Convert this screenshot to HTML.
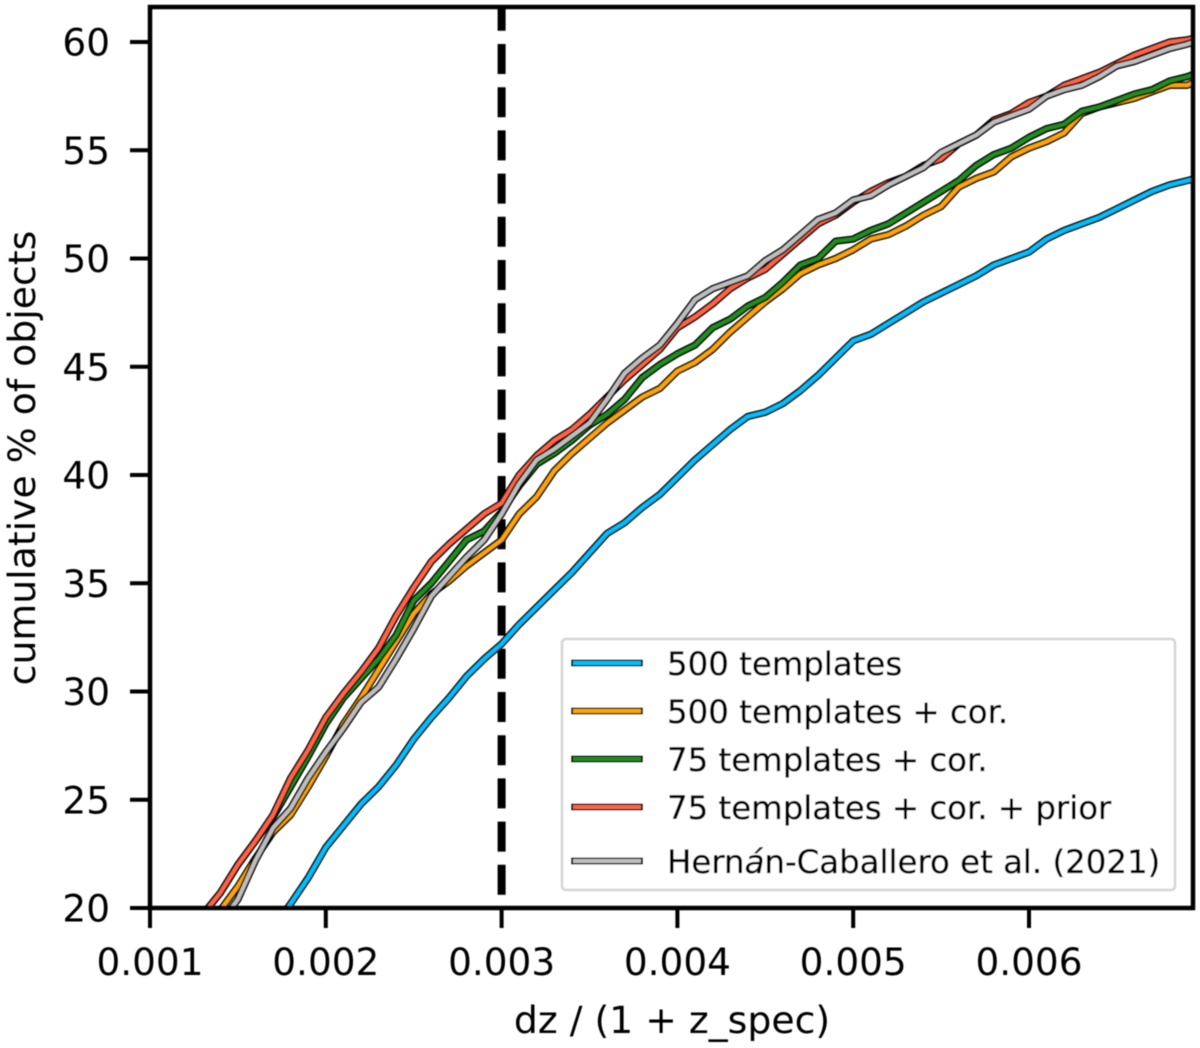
<!DOCTYPE html>
<html lang="en">
<head>
<meta charset="utf-8">
<title>Cumulative % of objects vs dz / (1 + z_spec)</title>
<style>
html,body{margin:0;padding:0;background:#fff;}
svg{display:block;}
text{font-family:"DejaVu Sans",sans-serif;fill:#000;}
</style>
</head>
<body>
<svg id="chart" xmlns="http://www.w3.org/2000/svg" width="1200" height="1048" viewBox="0 0 1200 1048">
<defs>
<clipPath id="plot-clip"><rect x="150" y="7" width="1043" height="901"></rect></clipPath>
<filter id="soft" x="0" y="0" width="100%" height="100%" filterUnits="userSpaceOnUse" primitiveUnits="userSpaceOnUse"><feGaussianBlur stdDeviation="0.4"></feGaussianBlur></filter>
</defs>
<g filter="url(#soft)">
<g id="marks" clip-path="url(#plot-clip)"></g>
<g id="axes"></g>
<g id="legend"></g>
</g>
</svg>
<script>
const dzValues = [0.0013,0.0014,0.0015,0.0016,0.0017,0.0018,0.0019,0.0020,0.0021,0.0022,0.0023,0.0024,0.0025,0.0026,0.0027,0.0028,0.0029,0.0030,0.0031,0.0032,0.0033,0.0034,0.0035,0.0036,0.0037,0.0038,0.0039,0.0040,0.0041,0.0042,0.0043,0.0044,0.0045,0.0046,0.0047,0.0048,0.0049,0.0050,0.0051,0.0052,0.0053,0.0054,0.0055,0.0056,0.0057,0.0058,0.0059,0.0060,0.0061,0.0062,0.0063,0.0064,0.0065,0.0066,0.0067,0.0068,0.0069,0.0070];
const templates500 = [15.4,16.3,17.2,18.1,19.1,20.2,21.4,22.8,23.8,24.8,25.6,26.6,27.8,28.8,29.7,30.7,31.5,32.2,33.1,33.9,34.7,35.5,36.4,37.3,37.8,38.5,39.1,39.9,40.7,41.4,42.1,42.7,42.9,43.3,43.9,44.6,45.4,46.2,46.5,47.0,47.5,48.0,48.4,48.8,49.2,49.7,50.0,50.3,50.9,51.3,51.6,51.9,52.3,52.7,53.1,53.4,53.6,53.8];
const templates500Cor = [19.0,19.9,21.0,22.3,23.5,24.3,25.6,27.0,28.5,29.7,31.0,32.3,33.6,34.5,35.1,35.8,36.4,37.0,38.2,39.0,40.2,41.0,41.7,42.4,43.0,43.6,44.0,44.8,45.2,45.8,46.6,47.3,48.0,48.6,49.3,49.7,50.0,50.4,50.9,51.1,51.5,52.0,52.4,53.3,53.7,54.0,54.7,55.1,55.4,55.8,56.7,57.0,57.2,57.4,57.7,58.0,58.0,58.4];
const templates75Cor = [19.7,20.7,22.0,23.1,24.2,25.6,27.0,28.5,29.7,30.6,31.5,32.6,34.2,35.0,36.0,37.0,37.4,38.3,39.5,40.5,41.0,41.6,42.3,42.8,43.5,44.5,45.1,45.6,46.0,46.8,47.2,47.8,48.2,48.9,49.7,50.0,50.8,50.9,51.3,51.6,52.1,52.6,53.1,53.6,54.3,54.8,55.1,55.6,56.0,56.2,56.8,57.0,57.3,57.6,57.8,58.2,58.4,58.7];
const templates75CorPrior = [19.7,20.7,22.0,23.1,24.3,26.0,27.3,28.8,29.9,30.9,32.0,33.5,34.8,36.0,36.8,37.5,38.2,38.7,40.0,40.9,41.6,42.1,42.8,43.6,44.4,45.1,45.8,46.8,47.3,47.9,48.6,49.1,49.5,50.2,50.9,51.6,52.0,52.6,53.1,53.5,53.8,54.3,54.6,55.3,55.7,56.4,56.7,57.2,57.5,58.0,58.3,58.6,59.0,59.4,59.7,60.0,60.1,60.3];
const hernanCaballero = [18.2,19.3,20.4,22.2,23.7,24.6,26.0,27.2,28.3,29.5,30.2,31.5,32.9,34.4,35.3,36.2,37.0,38.2,39.6,40.7,41.2,41.8,42.4,43.5,44.7,45.4,46.0,47.0,48.1,48.6,48.9,49.2,49.9,50.4,51.1,51.8,52.1,52.7,52.9,53.4,53.8,54.2,54.9,55.3,55.7,56.3,56.6,56.9,57.5,57.8,58.0,58.4,58.9,59.1,59.4,59.7,59.9,60.2];
const xTicks = [0.001,0.002,0.003,0.004,0.005,0.006];
const xTickLabels = ["0.001","0.002","0.003","0.004","0.005","0.006"];
const yTicks = [20,25,30,35,40,45,50,55,60];
const yTickLabels = ["20","25","30","35","40","45","50","55","60"];
const thresholdDz = [0.003];
const seriesNames = ["500 templates","500 templates + cor.","75 templates + cor.","75 templates + cor. + prior","Hernán-Caballero et al. (2021)"];
const seriesSlugs = ["500-templates","500-templates-cor","75-templates-cor","75-templates-cor-prior","hernan-caballero-2021"];
const seriesColors = ["#00bfff","#ffa500","#228b22","#ff6347","#bebebe"];
const seriesData = [templates500,templates500Cor,templates75Cor,templates75CorPrior,hernanCaballero];

const NS = "http://www.w3.org/2000/svg";
const sx = v => 150 + (v - 0.001) * 175800;
const sy = v => 908 - (v - 20) * 21.65;
const marks = document.getElementById("marks");
const axes = document.getElementById("axes");
const legend = document.getElementById("legend");
function mk(tag, parent, props) {
  const el = document.createElementNS(NS, tag);
  for (const k in props) el.setAttribute(k, props[k]);
  parent.appendChild(el);
  return el;
}

/* threshold line */
thresholdDz.forEach(v => {
  const l = mk("line", marks, {x1:sx(v), x2:sx(v), y1:908, y2:7, stroke:"#000", "stroke-width":8, "stroke-dasharray":"30 13.2", "stroke-dashoffset":30});
  
  
});

/* series */
seriesData.forEach((vals, i) => {
  const d = vals.map((v, j) => (j ? "L" : "M") + sx(dzValues[j]).toFixed(2) + " " + sy(v).toFixed(2)).join(" ");
  const g = mk("g", marks, {});
  
  
  mk("path", g, {d:d, fill:"none", stroke:"#000", "stroke-width":7.2, "stroke-linejoin":"round"});
  mk("path", g, {d:d, fill:"none", stroke:seriesColors[i], "stroke-width":4, "stroke-linejoin":"round"});
});

/* x ticks */
xTicks.forEach((v, i) => {
  const t = mk("line", axes, {x1:sx(v), x2:sx(v), y1:908, y2:928, stroke:"#000", "stroke-width":4});
  
  
  const l = mk("text", axes, {x:sx(v), y:975, "text-anchor":"middle", "font-size":37.4});
  
  
  l.textContent = xTickLabels[i];
});
/* y ticks */
yTicks.forEach((v, i) => {
  const t = mk("line", axes, {x1:130, x2:150, y1:sy(v), y2:sy(v), stroke:"#000", "stroke-width":4});
  
  
  const l = mk("text", axes, {x:110, y:sy(v) + 13.5, "text-anchor":"end", "font-size":37.4});
  
  
  l.textContent = yTickLabels[i];
});
/* frame */
const frame = mk("rect", axes, {x:150, y:7, width:1043, height:901, fill:"none", stroke:"#000", "stroke-width":4.5});



const xTitle = mk("text", axes, {x:672, y:1033, "text-anchor":"middle", "font-size":37.8});


xTitle.textContent = "dz / (1 + z_spec)";

const yTitle = mk("text", axes, {x:0, y:0, "text-anchor":"middle", "font-size":37.8, transform:"translate(35 458) rotate(-90)"});


yTitle.textContent = "cumulative % of objects";

/* legend */
const lbox = mk("rect", legend, {x:562, y:639, width:613, height:251, rx:4, fill:"#fff", "fill-opacity":0.9, stroke:"#d4d4d4", "stroke-width":2.5});


const legendRowY = [663,711,759,807,861];
seriesNames.forEach((name, i) => {
  const g = mk("g", legend, {});
  
  
  mk("line", g, {x1:571, x2:643, y1:legendRowY[i], y2:legendRowY[i], stroke:"#000", "stroke-width":7});
  mk("line", g, {x1:573, x2:641, y1:legendRowY[i], y2:legendRowY[i], stroke:seriesColors[i], "stroke-width":4});
  const t = mk("text", g, {x:667, y:legendRowY[i] + 12, "font-size":32.4, stroke:"#000", "stroke-width":0.35});
  if (name.includes("á")) {
    const parts = name.split("á");
    t.appendChild(document.createTextNode(parts[0]));
    const it = mk("tspan", t, {"font-style":"italic"});
    it.textContent = "á";
    t.appendChild(document.createTextNode(parts[1]));
  } else {
    t.textContent = name;
  }
});
</script>
</body>
</html>
